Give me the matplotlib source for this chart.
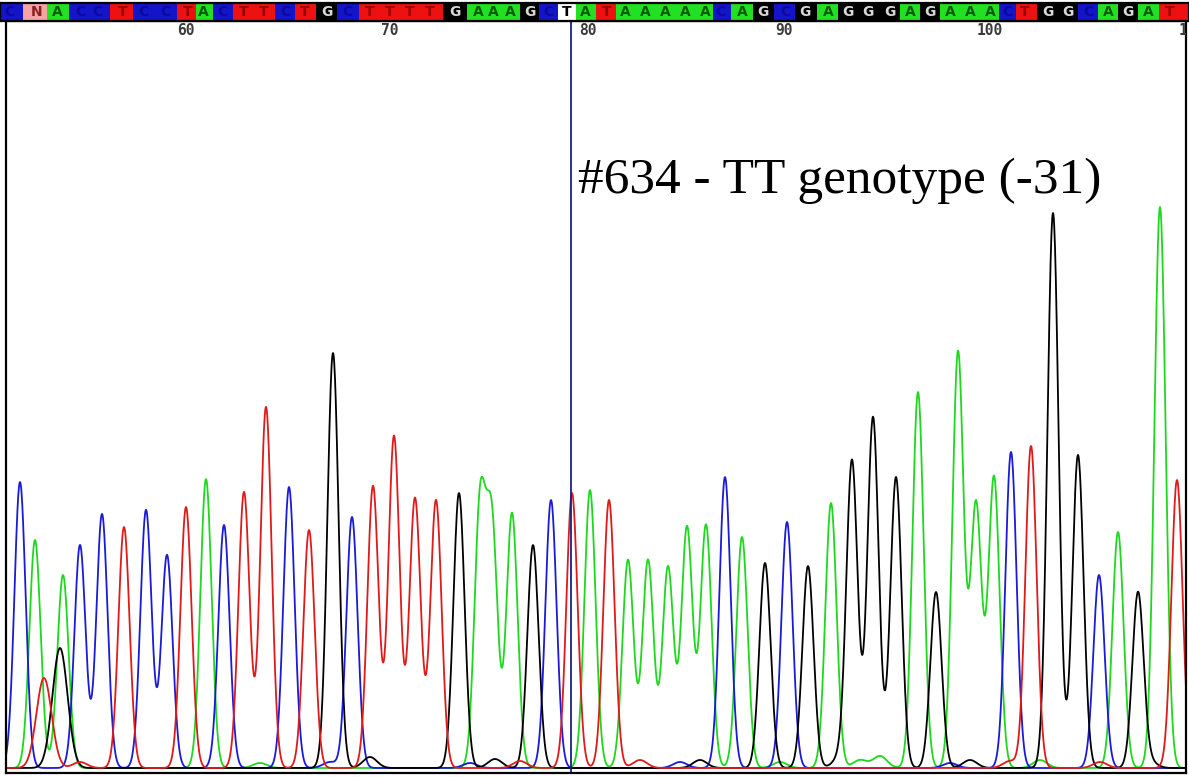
import matplotlib.pyplot as plt
from matplotlib.patches import Rectangle
import numpy as np

# base calls (positions 52..109) and the scan point where each was called
bases = "CNACCTCCTACTTCTGCTTTTGAAAGCTATAAAAACAGCGAGGGAGAAACTGGCAGAT"
base_scans = [9, 37, 57, 80, 97, 123, 143, 165, 188, 203,
              222, 244, 264, 285, 305, 327, 347, 370, 390, 410,
              430, 455, 478, 493, 510, 530, 548, 567, 585, 607,
              625, 645, 665, 685, 705, 720, 742, 763, 785, 805,
              828, 848, 868, 890, 910, 930, 950, 970, 990, 1007,
              1025, 1048, 1068, 1088, 1108, 1128, 1148, 1170]
cursor_base = 79
first_pos = 52

tick_labels = [60, 70, 80, 90, 100, 110]
tick_scans = [186, 390, 588, 784, 990, 1192]

# peak positions (scan) and heights per dye
c_peaks = [20, 80, 102, 146, 167, 224, 289, 352, 551, 725, 787, 1011, 1099]
c_heights = [286, 223, 254, 258, 213, 243, 281, 251, 268, 291, 246, 316, 193]
t_peaks = [44, 124, 186, 244, 266, 309, 373, 394, 415, 436, 572, 609, 1031, 1177]
t_heights = [90, 241, 261, 276, 361, 238, 282, 332, 270, 268, 275, 268, 322, 288]
a_peaks = [35, 63, 206, 480, 492, 512, 590, 628, 648, 668, 687, 706, 742,
           831, 918, 958, 976, 994, 1118, 1160]
a_heights = [228, 193, 289, 259, 238, 255, 278, 208, 208, 201, 241, 243, 231,
             265, 376, 416, 264, 291, 236, 561]
g_peaks = [60, 333, 459, 533, 765, 808, 852, 873, 896, 936, 1053, 1078, 1138]
g_heights = [120, 415, 275, 223, 205, 202, 306, 351, 291, 176, 555, 313, 175]

# small background bumps near the baseline
c_noise = [(330, 6), (470, 5), (680, 6), (950, 5)]
t_noise = [(80, 6), (520, 7), (640, 8), (1010, 7), (1100, 6)]
a_noise = [(260, 5), (780, 6), (860, 8), (880, 12), (1040, 8)]
g_noise = [(370, 11), (495, 9), (700, 8), (840, 10), (970, 8), (1150, 6)]

title = "#634 - TT genotype (-31)"

box_colors = {"A": "#22e022", "C": "#1414c8", "G": "#000000", "T": "#ee1111", "N": "#f4a4a4"}
letter_colors = {"A": "#0a5a0a", "C": "#0a0a9a", "G": "#d8d8d8", "T": "#9a0000", "N": "#8a2020"}
trace_colors = {"A": "#1ed81e", "C": "#1a1ad8", "G": "#000000", "T": "#e01a1a"}

W, H = 1189, 777


def px_rect(x0, y0, x1, y1):
    return [x0 / W, 1 - y1 / H, (x1 - x0) / W, (y1 - y0) / H]


def trace(x, peaks, heights, noise, sigma=5.6):
    y = np.zeros_like(x)
    for p, h in zip(peaks, heights):
        s = sigma * (1.35 if h < 130 else 1.0)
        y += h * np.exp(-(x - p) ** 2 / (2 * s ** 2))
    for p, h in noise:
        y += h * np.exp(-(x - p) ** 2 / (2 * 7.0 ** 2))
    return y


fig = plt.figure(figsize=(W / 100, H / 100), dpi=100)

# main trace panel
ax = fig.add_axes(px_rect(6, 21, 1186, 773))
ax.set_xlim(6, 1186)
ax.set_ylim(-5, 747)
x = np.linspace(0, 1189, 3000)
for key, pk, ht, nz in [("A", a_peaks, a_heights, a_noise),
                        ("C", c_peaks, c_heights, c_noise),
                        ("G", g_peaks, g_heights, g_noise),
                        ("T", t_peaks, t_heights, t_noise)]:
    ax.plot(x, trace(x, pk, ht, nz), color=trace_colors[key], lw=1.3)

ax.axvline(base_scans[cursor_base - first_pos] + 4, color="#1a2080", lw=1.3)

for lab, sx in zip(tick_labels, tick_scans):
    ax.text(sx, 0.988, str(lab), transform=ax.get_xaxis_transform(),
            ha="center", va="center", fontsize=10.5, family="DejaVu Sans Mono",
            fontweight="bold", color="#3a3a3a", clip_on=True)

ax.text(578, 0.788, title, transform=ax.get_xaxis_transform(), ha="left", va="center",
        fontsize=37, family="Liberation Serif", color="black")

ax.set_xticks([])
ax.set_yticks([])
for sp in ax.spines.values():
    sp.set_linewidth(1.6)
    sp.set_color("black")

# base call strip
bar = fig.add_axes(px_rect(0, 3, 1189, 21))
bar.set_xlim(0, W)
bar.set_ylim(0, 1)
mids = [(a + b) / 2 for a, b in zip(base_scans[:-1], base_scans[1:])]
edges = [-10] + mids + [W + 10]
for i, b in enumerate(bases):
    x0, x1 = edges[i], edges[i + 1]
    pos = first_pos + i
    if pos == cursor_base:
        fc, tc = "white", "black"
    else:
        fc, tc = box_colors[b], letter_colors[b]
    bar.add_patch(Rectangle((x0, 0), x1 - x0, 1, facecolor=fc, edgecolor="none"))
    bar.text(base_scans[i], 0.48, b, ha="center", va="center", fontsize=10,
             fontweight="bold", family="DejaVu Sans", color=tc, clip_on=True)
bar.set_xticks([])
bar.set_yticks([])
for sp in bar.spines.values():
    sp.set_linewidth(1.6)
    sp.set_color("black")

fig.savefig("out.png", dpi=100)
